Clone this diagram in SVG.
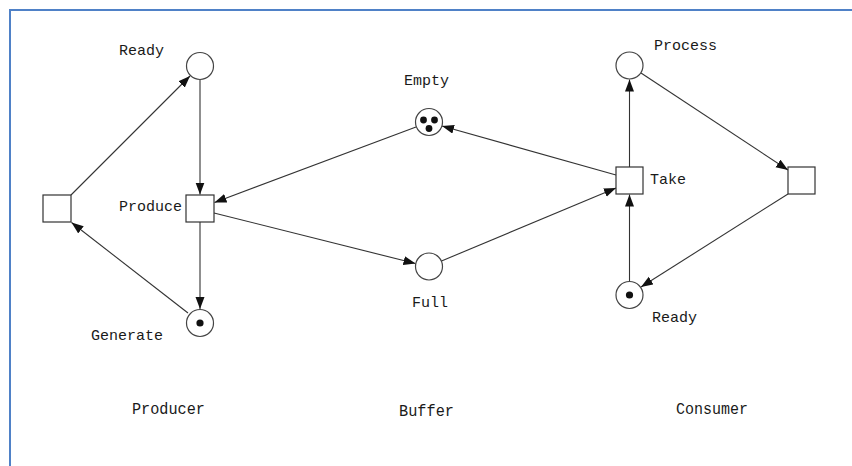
<svg xmlns="http://www.w3.org/2000/svg" width="852" height="466" viewBox="0 0 852 466">
  <defs>
    <marker id="arrow" markerUnits="userSpaceOnUse" markerWidth="14" markerHeight="10" refX="12" refY="4.5" orient="auto">
      <path d="M0,0 L12,4.5 L0,9 z" fill="#111"/>
    </marker>
    <style>
      .place { fill: #fff; stroke: #444; stroke-width: 1.2; }
      .trans { fill: #fff; stroke: #333; stroke-width: 1.2; }
      .token { fill: #111; }
      .arc { stroke: #333; stroke-width: 1.1; fill: none; marker-end: url(#arrow); }
      .lbl { font-family: "Liberation Mono", "Courier New", monospace; font-size: 15px; fill: #1a1a1a; }
      .sec { font-family: "Liberation Mono", "Courier New", monospace; font-size: 17px; fill: #1a1a1a; }
    </style>
  </defs>
  <rect width="852" height="466" fill="#fff"/>
  <!-- frame -->
  <path d="M10,466 V10 H852" fill="none" stroke="#4f81c7" stroke-width="2"/>

  <!-- connectors -->
  <g id="arcs">
    <line class="arc" x1="71" y1="195" x2="190" y2="76"/>
    <line class="arc" x1="200" y1="80" x2="200" y2="194.5"/>
    <line class="arc" x1="416" y1="127" x2="214.5" y2="202.5"/>
    <line class="arc" x1="214" y1="213" x2="415.5" y2="263.5"/>
    <line class="arc" x1="200" y1="222" x2="200" y2="309"/>
    <line class="arc" x1="188" y1="313" x2="71.5" y2="222.5"/>
    <line class="arc" x1="441.5" y1="261" x2="616" y2="188"/>
    <line class="arc" x1="616" y1="175" x2="442" y2="126"/>
    <line class="arc" x1="629.5" y1="167" x2="629.5" y2="79.5"/>
    <line class="arc" x1="641" y1="73" x2="788" y2="170"/>
    <line class="arc" x1="788" y1="194" x2="641" y2="287"/>
    <line class="arc" x1="629.5" y1="281" x2="629.5" y2="194.5"/>
  </g>

  <!-- producer side -->
  <g id="producer-ready">
    <circle class="place" cx="200" cy="66" r="13.5"/>
    <text class="lbl" x="119" y="55">Ready</text>
  </g>
  <g id="producer-cycle">
    <rect class="trans" x="43" y="195" width="28" height="27"/>
  </g>
  <g id="produce">
    <rect class="trans" x="186" y="195" width="28" height="27"/>
    <text class="lbl" x="119" y="211">Produce</text>
  </g>
  <g id="generate">
    <circle class="place" cx="200" cy="323" r="13.5"/>
    <circle class="token" cx="200" cy="323" r="3.6"/>
    <text class="lbl" x="91" y="340">Generate</text>
  </g>

  <!-- buffer -->
  <g id="empty">
    <circle class="place" cx="429" cy="122" r="13.5"/>
    <circle class="token" cx="423.5" cy="120" r="3.4"/>
    <circle class="token" cx="434.5" cy="120" r="3.4"/>
    <circle class="token" cx="429" cy="128.5" r="3.4"/>
    <text class="lbl" x="404" y="85">Empty</text>
  </g>
  <g id="full">
    <circle class="place" cx="429" cy="266.5" r="13.5"/>
    <text class="lbl" x="412" y="307">Full</text>
  </g>

  <!-- consumer side -->
  <g id="process">
    <circle class="place" cx="629.5" cy="65.5" r="13.5"/>
    <text class="lbl" x="654" y="50">Process</text>
  </g>
  <g id="take">
    <rect class="trans" x="616" y="167" width="27" height="27"/>
    <text class="lbl" x="650" y="184">Take</text>
  </g>
  <g id="consume">
    <rect class="trans" x="788" y="167" width="27" height="27"/>
  </g>
  <g id="consumer-ready">
    <circle class="place" cx="629.5" cy="295" r="13.5"/>
    <circle class="token" cx="629.5" cy="295" r="3.6"/>
    <text class="lbl" x="652" y="322">Ready</text>
  </g>

  <!-- section captions -->
  <g id="captions">
    <text class="sec" x="132" y="414" textLength="73" lengthAdjust="spacingAndGlyphs">Producer</text>
    <text class="sec" x="399" y="416" textLength="55" lengthAdjust="spacingAndGlyphs">Buffer</text>
    <text class="sec" x="676" y="414" textLength="72" lengthAdjust="spacingAndGlyphs">Consumer</text>
  </g>
</svg>
